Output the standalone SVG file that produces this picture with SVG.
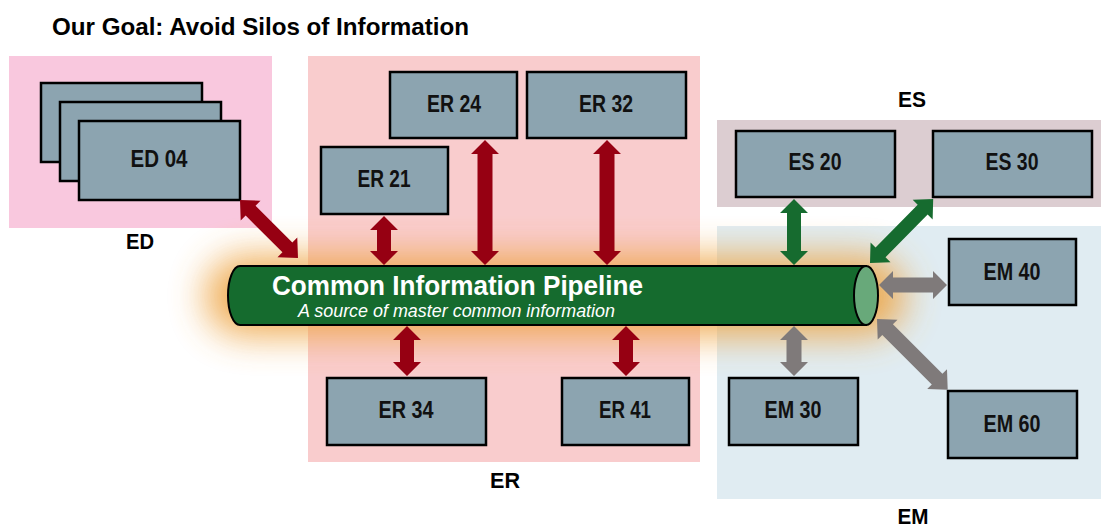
<svg xmlns="http://www.w3.org/2000/svg" width="1101" height="527" viewBox="0 0 1101 527">
<style>
.bx{fill:#8ca4b0;stroke:#000;stroke-width:2.5}
.lb{font-family:"Liberation Sans",Arial,sans-serif;font-weight:bold;font-size:23px;fill:#111;text-anchor:middle}
.gl{font-family:"Liberation Sans",Arial,sans-serif;font-weight:bold;font-size:22px;fill:#000;text-anchor:middle}
.red{fill:#960012}
.grn{fill:#166b2f}
.gry{fill:#7f7a7a}
</style>
<defs>
<filter id="glow" x="-20%" y="-100%" width="140%" height="300%"><feGaussianBlur stdDeviation="18"/></filter>
</defs>
<rect width="1101" height="527" fill="#fff"/>
<text x="52" y="35" font-family="Liberation Sans,Arial,sans-serif" font-weight="bold" font-size="24" fill="#000" textLength="417" lengthAdjust="spacingAndGlyphs">Our Goal: Avoid Silos of Information</text>
<g id="bg">
<rect x="9" y="56" width="263" height="172" fill="#f9c8de"/>
<rect x="308" y="56" width="392" height="406" fill="#f9cccd"/>
<rect x="717" y="120" width="384" height="87" fill="#dccdd1"/>
<rect x="717" y="226" width="384" height="273" fill="#e0ecf2"/>
</g>
<rect x="205" y="256" width="700" height="80" rx="40" fill="#eea545" filter="url(#glow)" opacity="0.9"/>
<g id="ED">
<rect class="bx" x="41" y="83" width="161" height="79"/>
<rect class="bx" x="60" y="102" width="161" height="79"/>
<rect class="bx" x="79" y="121" width="161" height="79"/>
<text class="lb" x="159" y="167" textLength="57" lengthAdjust="spacingAndGlyphs">ED 04</text>
<text class="gl" x="140" y="249" textLength="28" lengthAdjust="spacingAndGlyphs">ED</text>
</g>
<g id="ER">
<text class="gl" x="505" y="488" textLength="30" lengthAdjust="spacingAndGlyphs">ER</text>
</g>
<g id="ER21"><rect class="bx" x="321" y="147" width="127" height="67"/><text class="lb" x="384" y="187" textLength="53" lengthAdjust="spacingAndGlyphs">ER 21</text></g>
<g id="ER24"><rect class="bx" x="390" y="72" width="127" height="66"/><text class="lb" x="454" y="112" textLength="54" lengthAdjust="spacingAndGlyphs">ER 24</text></g>
<g id="ER32"><rect class="bx" x="527" y="72" width="159" height="66"/><text class="lb" x="606" y="112" textLength="54" lengthAdjust="spacingAndGlyphs">ER 32</text></g>
<g id="ER34"><rect class="bx" x="327" y="378" width="159" height="67"/><text class="lb" x="406" y="418" textLength="55" lengthAdjust="spacingAndGlyphs">ER 34</text></g>
<g id="ER41"><rect class="bx" x="562" y="378" width="127" height="67"/><text class="lb" x="625" y="418" textLength="52" lengthAdjust="spacingAndGlyphs">ER 41</text></g>
<g id="ES"><text class="gl" x="912" y="107" textLength="28" lengthAdjust="spacingAndGlyphs">ES</text></g>
<g id="ES20"><rect class="bx" x="736" y="131" width="159" height="66"/><text class="lb" x="815" y="170" textLength="53" lengthAdjust="spacingAndGlyphs">ES 20</text></g>
<g id="ES30"><rect class="bx" x="933" y="131" width="159" height="66"/><text class="lb" x="1012" y="170" textLength="53" lengthAdjust="spacingAndGlyphs">ES 30</text></g>
<g id="EM"><text class="gl" x="913" y="524" textLength="31" lengthAdjust="spacingAndGlyphs">EM</text></g>
<g id="EM40"><rect class="bx" x="949" y="239" width="127" height="66"/><text class="lb" x="1012" y="280" textLength="57" lengthAdjust="spacingAndGlyphs">EM 40</text></g>
<g id="EM30"><rect class="bx" x="729" y="378" width="129" height="67"/><text class="lb" x="793" y="418" textLength="57" lengthAdjust="spacingAndGlyphs">EM 30</text></g>
<g id="EM60"><rect class="bx" x="948" y="391" width="129" height="67"/><text class="lb" x="1012" y="432" textLength="57" lengthAdjust="spacingAndGlyphs">EM 60</text></g>
<g id="pipeline">
<path d="M240 266 H866 V325 H240 A12 29.5 0 0 1 240 266 Z" fill="#156b2e" stroke="#000" stroke-width="2"/>
<ellipse cx="866" cy="295.5" rx="12" ry="29.5" fill="#68a97a" stroke="#000" stroke-width="2"/>
<text x="272" y="295" font-family="Liberation Sans,Arial,sans-serif" font-weight="bold" font-size="28" fill="#fff" textLength="371" lengthAdjust="spacingAndGlyphs">Common Information Pipeline</text>
<text x="298" y="317" font-family="Liberation Sans,Arial,sans-serif" font-style="italic" font-size="18" fill="#fff" textLength="317" lengthAdjust="spacingAndGlyphs">A source of master common information</text>
</g>
<g id="connectors">
<path class="red" transform="translate(240,200) rotate(45)" d="M0 0 L15 -14 L15 -7 L67 -7 L67 -14 L82 0 L67 14 L67 7 L15 7 L15 14 Z"/>
<path class="red" transform="translate(384,216) rotate(90)" d="M0 0 L14 -14 L14 -7 L35 -7 L35 -14 L49 0 L35 14 L35 7 L14 7 L14 14 Z"/>
<path class="red" transform="translate(485,140) rotate(90)" d="M0 0 L14 -14 L14 -7.5 L111 -7.5 L111 -14 L125 0 L111 14 L111 7.5 L14 7.5 L14 14 Z"/>
<path class="red" transform="translate(607,140) rotate(90)" d="M0 0 L14 -14 L14 -7.5 L111 -7.5 L111 -14 L125 0 L111 14 L111 7.5 L14 7.5 L14 14 Z"/>
<path class="red" transform="translate(407,326) rotate(90)" d="M0 0 L14 -14 L14 -7 L36 -7 L36 -14 L50 0 L36 14 L36 7 L14 7 L14 14 Z"/>
<path class="red" transform="translate(626,326) rotate(90)" d="M0 0 L14 -14 L14 -7 L36 -7 L36 -14 L50 0 L36 14 L36 7 L14 7 L14 14 Z"/>
<path class="grn" transform="translate(794,199) rotate(90)" d="M0 0 L14 -14 L14 -7 L52 -7 L52 -14 L66 0 L52 14 L52 7 L14 7 L14 14 Z"/>
<path class="grn" transform="translate(870,263) rotate(-45.4)" d="M0 0 L15 -14 L15 -7 L75 -7 L75 -14 L90 0 L75 14 L75 7 L15 7 L15 14 Z"/>
<path class="gry" transform="translate(879,285)" d="M0 0 L14 -14 L14 -7.5 L54 -7.5 L54 -14 L68 0 L54 14 L54 7.5 L14 7.5 L14 14 Z"/>
<path class="gry" transform="translate(794,326) rotate(90)" d="M0 0 L14 -14 L14 -7.5 L36 -7.5 L36 -14 L50 0 L36 14 L36 7.5 L14 7.5 L14 14 Z"/>
<path class="gry" transform="translate(877,319) rotate(45)" d="M0 0 L15 -14 L15 -7.5 L85 -7.5 L85 -14 L100 0 L85 14 L85 7.5 L15 7.5 L15 14 Z"/>
</g>
</svg>
